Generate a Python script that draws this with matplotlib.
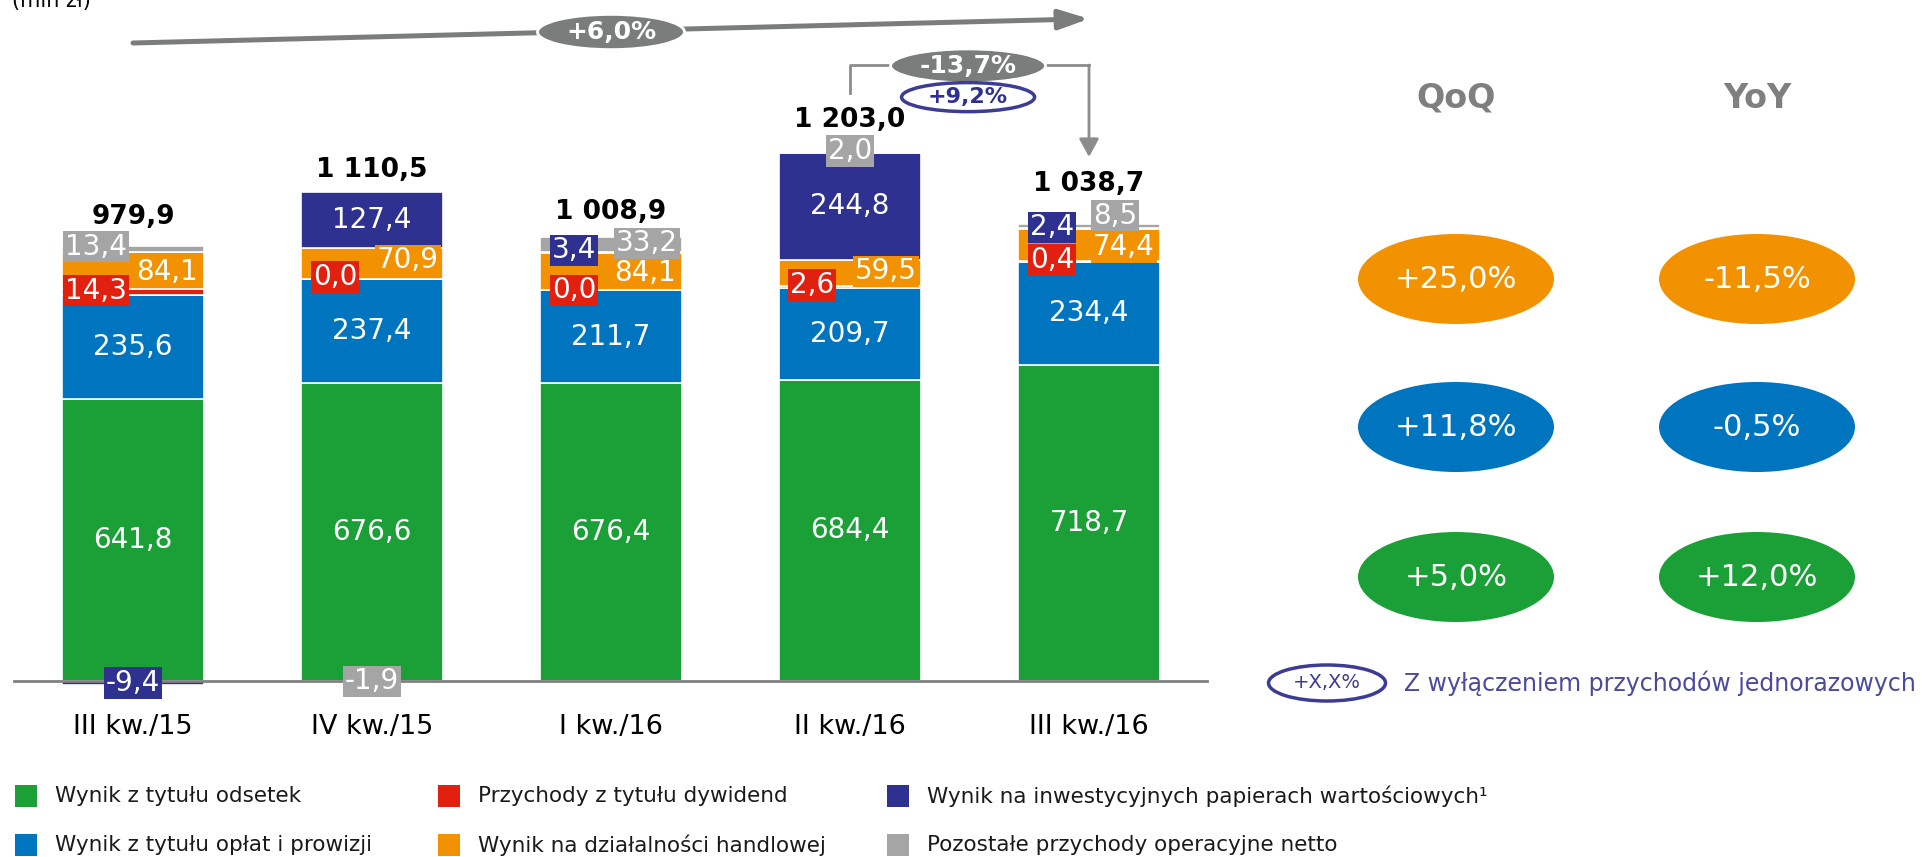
import matplotlib
matplotlib.use("Agg")
import matplotlib.pyplot as plt
from matplotlib.patches import Ellipse, Rectangle
import numpy as np

# dane (mln zł)
categories = ["III kw./15", "IV kw./15", "I kw./16", "II kw./16", "III kw./16"]
odsetki = [641.8, 676.6, 676.4, 684.4, 718.7]
prowizje = [235.6, 237.4, 211.7, 209.7, 234.4]
dywidendy = [14.3, 0.0, 0.0, 2.6, 0.4]
handlowa = [84.1, 70.9, 84.1, 59.5, 74.4]
papiery = [-9.4, 127.4, 3.4, 244.8, 2.4]
pozostale = [13.4, -1.9, 33.2, 2.0, 8.5]
totals = [979.9, 1110.5, 1008.9, 1203.0, 1038.7]

series_names = ["Wynik z tytułu odsetek", "Wynik z tytułu opłat i prowizji",
                "Przychody z tytułu dywidend", "Wynik na działalności handlowej",
                "Wynik na inwestycyjnych papierach wartościowych¹",
                "Pozostałe przychody operacyjne netto"]
colors = ["#1ba038", "#0075bf", "#e2200f", "#f39200", "#2e3190", "#a5a5a5"]

qoq = ["+25,0%", "+11,8%", "+5,0%"]
yoy = ["-11,5%", "-0,5%", "+12,0%"]
change_total = "+6,0%"
change_qoq = "-13,7%"
change_qoq_adj = "+9,2%"

series = [odsetki, prowizje, dywidendy, handlowa, papiery, pozostale]

# label offsets (pixels) per series / bar
lab_dx = [
    [0, 0, 0, 0, 0],
    [0, 0, 0, 0, 0],
    [-37, -37, -37, -38, -37],
    [34, 36, 34, 36, 35],
    [0, 0, -37, 0, -37],
    [-37, 0, 36, 0, 26],
]
lab_dy = [
    [0, 0, 0, 0, 0],
    [0, 0, 0, 0, 0],
    [1, 2, 0, 2, 2],
    [-2, 3, -1, 2, -2],
    [0, 0, 2, 0, 1],
    [2, 0, 1, 1, 10],
]
total_dy = [29, 22, 25, 32, 40]

GRAY = "#7b7d7d"
NAVY = "#3c3c96"

fig = plt.figure(figsize=(19.26, 8.57), dpi=100)
ax = fig.add_axes([0, 0, 1, 1])
ax.set_xlim(-133 / 239, (1926 - 133) / 239)
ax.set_ylim(-(857 - 681) / 0.44, 681 / 0.44)
ax.axis("off")

x = np.arange(len(categories))
width = 142 / 239
pos_bottom = np.zeros(len(categories))
neg_bottom = np.zeros(len(categories))

for s, vals in enumerate(series):
    vals = np.array(vals)
    bottom = np.where(vals >= 0, pos_bottom, neg_bottom)
    ax.bar(x, vals, width, bottom=bottom, color=colors[s], edgecolor="white",
           linewidth=1.2, zorder=2)
    for i, v in enumerate(vals):
        yc = bottom[i] + v / 2
        ax.annotate(f"{v:.1f}".replace(".", ","), (x[i], yc),
                    xytext=(lab_dx[s][i], lab_dy[s][i]), textcoords="offset pixels",
                    ha="center", va="center", color="white", fontsize=20, zorder=5,
                    bbox=dict(boxstyle="square,pad=0.06", fc=colors[s], ec="none"))
    pos_bottom = pos_bottom + np.where(vals >= 0, vals, 0)
    neg_bottom = neg_bottom + np.where(vals < 0, vals, 0)

ax.axhline(0, xmin=14 / 1926, xmax=1207 / 1926, color="#808080", lw=2, zorder=3)

for i, t in enumerate(totals):
    lab = f"{t:,.1f}".replace(",", " ").replace(".", ",")
    ax.annotate(lab, (x[i], pos_bottom[i]), xytext=(0, total_dy[i]),
                textcoords="offset pixels", ha="center", va="center",
                fontsize=19, fontweight="bold", color="black")

for i, c in enumerate(categories):
    ax.text(x[i], -(727 - 681) / 0.44, c, ha="center", va="center", fontsize=19.5,
            color="black")

# trend arrow over all quarters
ax.annotate("", xy=(4, 1505), xytext=(0, 1450),
            arrowprops=dict(arrowstyle="-|>,head_length=0.9,head_width=0.3",
                            mutation_scale=20, lw=3.6, color=GRAY,
                            shrinkA=0, shrinkB=0))
ax.add_patch(Ellipse((2.0, 1475), 147 / 239, 80, fc=GRAY, ec="white", lw=2, zorder=4))
ax.text(2.0, 1475, change_total, ha="center", va="center", color="white",
        fontsize=18, fontweight="bold", zorder=5)

# QoQ bracket
ax.plot([3, 3, 4], [1336, 1400, 1400], color="#8c8c8c", lw=2, zorder=2)
ax.annotate("", xy=(4, 1191), xytext=(4, 1400),
            arrowprops=dict(arrowstyle="-|>,head_length=0.55,head_width=0.3",
                            mutation_scale=20, lw=2, color="#8c8c8c",
                            shrinkA=0, shrinkB=0))
ax.add_patch(Ellipse((3.494, 1398), 155 / 239, 77, fc=GRAY, ec="white", lw=2, zorder=4))
ax.text(3.494, 1398, change_qoq, ha="center", va="center", color="white",
        fontsize=18, fontweight="bold", zorder=5)
ax.add_patch(Ellipse((3.494, 1327), 133 / 239, 66, fc="white", ec=NAVY, lw=2.5, zorder=4))
ax.text(3.494, 1327, change_qoq_adj, ha="center", va="center", color="#2e3190",
        fontsize=16, fontweight="bold", zorder=5)

# overlay in pixel coordinates for the side panel and legend
ov = fig.add_axes([0, 0, 1, 1])
ov.set_xlim(0, 1926)
ov.set_ylim(857, 0)
ov.axis("off")
ov.patch.set_alpha(0)

ov.text(12, 11, "(mln zł)", ha="left", va="bottom", fontsize=15, color="black")

for cx, head, vals in [(1456, "QoQ", qoq), (1757, "YoY", yoy)]:
    ov.text(cx, 98, head, ha="center", va="center", fontsize=24,
            fontweight="bold", color="#7f7f7f")
    for cy, v, col in zip([279, 427, 577], vals, [colors[3], colors[1], colors[0]]):
        ov.add_patch(Ellipse((cx, cy), 196, 90, fc=col, ec="none"))
        ov.text(cx, cy, v, ha="center", va="center", fontsize=22, color="white")

ov.add_patch(Ellipse((1327, 683), 117, 36, fc="white", ec=NAVY, lw=2.5))
ov.text(1327, 683, "+X,X%", ha="center", va="center", fontsize=14, color=NAVY)
ov.text(1404, 683, "Z wyłączeniem przychodów jednorazowych", ha="left",
        va="center", fontsize=17, color="#4a4a9e")

# legend
leg_pos = [(15, 796), (15, 845), (438, 796), (438, 845), (887, 796), (887, 845)]
for (lx, ly), name, col in zip(leg_pos, series_names, colors):
    ov.add_patch(Rectangle((lx, ly - 11), 22, 22, fc=col, ec="none"))
    ov.text(lx + 40, ly, name, ha="left", va="center", fontsize=15.5, color="#1a1a1a")

fig.savefig("out.png", dpi=100)
